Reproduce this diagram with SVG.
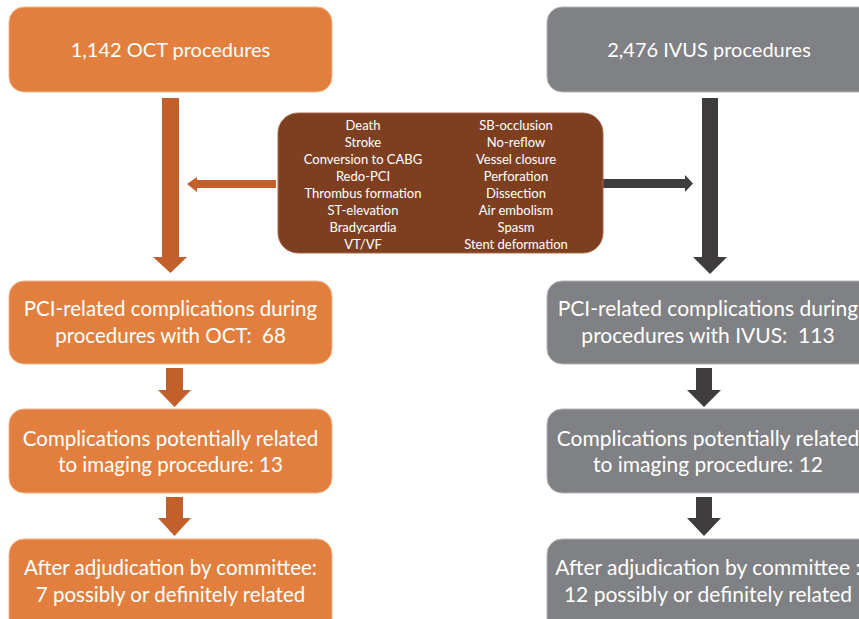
<svg xmlns="http://www.w3.org/2000/svg" width="859" height="619" viewBox="0 0 859 619">
<style>
.oct{fill:#E27F3E;stroke:#F3B58C;stroke-width:1}
.ivus{fill:#808184;stroke:#B5B6B8;stroke-width:1}
.mid{fill:#7E3F21;stroke:#A86A4C;stroke-width:1}
.t{font-family:Lato,"Open Sans",sans-serif;fill:#FFFFFF;text-anchor:middle;white-space:pre}
.big{font-size:20.5px}
.big2{font-size:21px}
.top{font-size:20px}
.sm{font-size:13px}
.ao{fill:#C35F2A}
.ag{fill:#3E3C3D}
</style>
<rect width="859" height="619" fill="#FFFFFF"/>
<g id="connectors">
<polygon class="ao" points="162,98 179,98 179,257 187,257 170.5,273 153,257 162,257"/>
<polygon class="ao" points="276,180 197,180 197,177 187,184 197,192 197,188 276,188"/>
<polygon class="ao" points="166,368 183,368 183,390 191,390 174.5,407 158,390 166,390"/>
<polygon class="ao" points="166,497 183,497 183,518 191,518 174.5,536 158,518 166,518"/>
<polygon class="ag" points="702,98 718,98 718,257 727,257 710,274 693,257 702,257"/>
<polygon class="ag" points="603,179 685,179 685,175 693,183.5 685,192 685,188 603,188"/>
<polygon class="ag" points="696,368 712,368 712,390 721,390 704,407 687,390 696,390"/>
<polygon class="ag" points="696,497 712,497 712,518 721,518 704,536 687,518 696,518"/>
</g>
<g id="oct-total">
<rect class="oct" x="9" y="7" width="323" height="85" rx="15"/>
<text class="t top" x="170.5" y="57">1,142 OCT procedures</text>
</g>
<g id="ivus-total">
<rect class="ivus" x="547" y="7" width="330" height="85" rx="15"/>
<text class="t top" x="709" y="57">2,476 IVUS procedures</text>
</g>
<g id="complications-list">
<rect class="mid" x="278" y="113" width="325" height="140" rx="20"/>
<text class="t sm" x="363" y="130">Death</text>
<text class="t sm" x="363" y="147">Stroke</text>
<text class="t sm" x="363" y="164">Conversion to CABG</text>
<text class="t sm" x="363" y="181">Redo-PCI</text>
<text class="t sm" x="363" y="198">Thrombus formation</text>
<text class="t sm" x="363" y="215">ST-elevation</text>
<text class="t sm" x="363" y="232">Bradycardia</text>
<text class="t sm" x="363" y="248.5">VT/VF</text>
<text class="t sm" x="516" y="130">SB-occlusion</text>
<text class="t sm" x="516" y="147">No-reflow</text>
<text class="t sm" x="516" y="164">Vessel closure</text>
<text class="t sm" x="516" y="181">Perforation</text>
<text class="t sm" x="516" y="198">Dissection</text>
<text class="t sm" x="516" y="215">Air embolism</text>
<text class="t sm" x="516" y="232">Spasm</text>
<text class="t sm" x="516" y="248.5">Stent deformation</text>
</g>
<g id="oct-pci">
<rect class="oct" x="9" y="281" width="323" height="83" rx="15"/>
<text class="t big" x="170.5" y="316">PCI-related complications during</text>
<text class="t big" x="170.5" y="343" xml:space="preserve">procedures with OCT:  68</text>
</g>
<g id="oct-imaging">
<rect class="oct" x="9" y="409" width="323" height="84" rx="15"/>
<text class="t big" x="170.5" y="446">Complications potentially related</text>
<text class="t big" x="170.5" y="472">to imaging procedure: 13</text>
</g>
<g id="oct-adjudication">
<rect class="oct" x="9" y="539" width="323" height="95" rx="15"/>
<text class="t big" x="170.5" y="575">After adjudication by committee:</text>
<text class="t big" x="170.5" y="602">7 possibly or definitely related</text>
</g>
<g id="ivus-pci">
<rect class="ivus" x="547" y="281" width="330" height="83" rx="15"/>
<text class="t big2" x="708" y="316">PCI-related complications during</text>
<text class="t big2" x="708" y="343" xml:space="preserve">procedures with IVUS:  113</text>
</g>
<g id="ivus-imaging">
<rect class="ivus" x="547" y="409" width="330" height="84" rx="15"/>
<text class="t big2" x="708" y="446">Complications potentially related</text>
<text class="t big2" x="708" y="472">to imaging procedure: 12</text>
</g>
<g id="ivus-adjudication">
<rect class="ivus" x="547" y="539" width="330" height="95" rx="15"/>
<text class="t big2" x="708" y="575">After adjudication by committee :</text>
<text class="t big2" x="708" y="602">12 possibly or definitely related</text>
</g>
</svg>
